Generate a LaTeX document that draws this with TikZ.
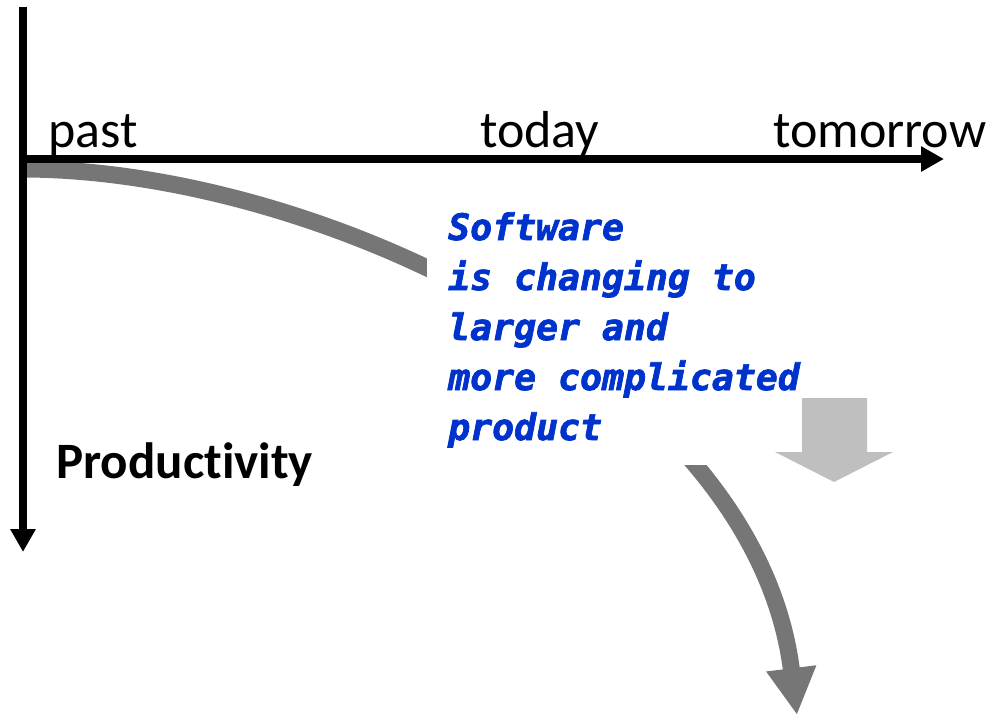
\documentclass[tikz,border=0pt]{standalone}
\usepackage{fontspec}
\setmainfont[Ligatures=NoCommon]{Carlito}
\newfontfamily\bluefont[ItalicFont={DejaVu Sans Mono Bold Oblique},ItalicFeatures={FakeBold=2}]{DejaVu Sans Mono}
\usetikzlibrary{arrows.meta}
\definecolor{curvegray}{RGB}{118,118,118}
\definecolor{blockgray}{RGB}{191,191,191}
\definecolor{txtblue}{RGB}{0,51,204}
\begin{document}
\begin{tikzpicture}[x=1pt,y=-1pt,
  axis/.style={line width=8pt,-{Triangle[width=24pt,length=23pt]}},
  lbl/.style={anchor=base west,inner sep=0pt,font=\fontsize{52}{60}\selectfont},
  trend/.style={line width=17pt,draw=curvegray,-{Triangle[width=47pt,length=47pt]}},
  msgtext/.style={anchor=base west,inner sep=0pt,align=left,text=txtblue,
    font=\bluefont\itshape\fontsize{36.5}{50}\selectfont}]
\useasboundingbox (0,0) rectangle (1000,721);
% trend curve
\draw[trend] (22,169) .. controls (320,169) and (755,375) .. (797,715);
% cover over the middle of the curve
\fill[white] (427,185) rectangle (760,465);
% axes
\coordinate (vtop) at (23,7);
\coordinate (vend) at (23,552);
\coordinate (hstart) at (19,159);
\coordinate (hend) at (944,159);
\draw[axis] (vtop) -- (vend);
\draw[axis] (hstart) -- (hend);
% labels
\node[lbl] (past) at (48,147) {past};
\node[lbl] (today) at (480,147) {today};
\node[lbl] (tomorrow) at (773,147) {tomorrow};
\node[lbl,font=\bfseries\fontsize{51}{60}\selectfont] (prod) at (56,478) {Productivity};
\node[msgtext] (msg) at (448,440) {Software\\is changing to\\larger and\\more complicated\\product};
% block arrow
\fill[blockgray] (802,398) -- (867,398) -- (867,452) -- (893,452) -- (834,482) -- (775,452) -- (802,452) -- cycle;
\end{tikzpicture}
\end{document}
